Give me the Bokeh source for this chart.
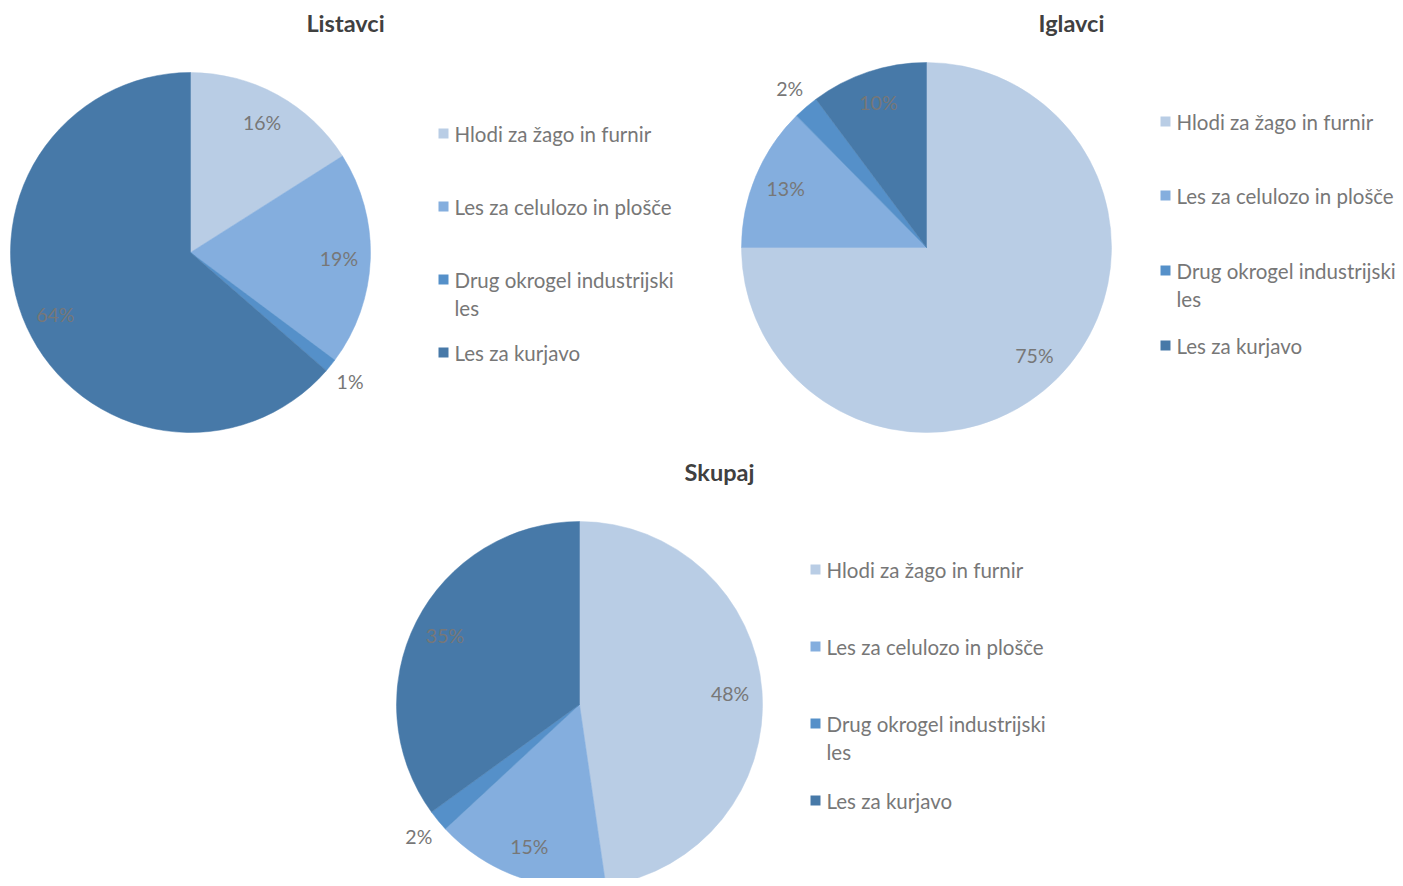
import numpy as np
from bokeh.plotting import figure
from bokeh.models import Range1d, ColumnDataSource
from bokeh.core.properties import value
from bokeh.embed import file_html
from bokeh.resources import INLINE

# ---- data ----
categories = ["Hlodi za žago in furnir", "Les za celulozo in plošče",
              "Drug okrogel industrijski les", "Les za kurjavo"]
legend_labels = ["Hlodi za žago in furnir", "Les za celulozo in plošče",
                 "Drug okrogel industrijski\nles", "Les za kurjavo"]
colors = ["#B9CDE5", "#84AEDE", "#5590C9", "#4779A8"]

titles = ["Listavci", "Iglavci", "Skupaj"]
listavci = [16.0, 19.2, 1.2, 63.6]
iglavci = [75.0, 12.6, 2.2, 10.2]
skupaj = [47.7, 15.4, 1.9, 35.0]

W, H = 1403, 886
FONT = "Lato"
LABEL_COLOR = "#777777"
TITLE_COLOR = "#404040"

p = figure(width=W - 8, height=H - 8, x_range=Range1d(0, W - 8), y_range=Range1d(8, H),
           output_backend="svg", toolbar_location=None,
           x_axis_type=None, y_axis_type=None, min_border=0)
p.xgrid.visible = False
p.ygrid.visible = False
p.outline_line_color = None
p.background_fill_color = "white"
p.border_fill_color = "white"


def Y(yi):
    return H - yi


def draw_pie(vals, title, cx, cy, r, title_xy, leg_x, leg_rows):
    vals = np.array(vals, dtype=float)
    frac = vals / vals.sum()
    cum = np.concatenate([[0], np.cumsum(frac)])
    start = np.pi / 2 - cum[1:] * 2 * np.pi
    end = np.pi / 2 - cum[:-1] * 2 * np.pi
    src = ColumnDataSource(dict(x=[cx] * 4, y=[Y(cy)] * 4, start=start, end=end, color=colors))
    p.wedge(x="x", y="y", radius=r, start_angle="start", end_angle="end",
            fill_color="color", line_color="color", line_width=0.5, source=src)
    # labels
    mid = (cum[:-1] + cum[1:]) / 2 * 2 * np.pi
    lr = np.where(frac < 0.03, r + 25, r * 0.825)
    lx = cx + lr * np.sin(mid)
    ly = Y(cy) + lr * np.cos(mid)
    txt = [f"{int(round(v))}%" for v in vals]
    p.text(x=lx, y=ly, text=txt, text_align="center", text_baseline="middle",
           text_font=value(FONT), text_font_size="19.5px", text_color=LABEL_COLOR)
    # title
    p.text(x=[title_xy[0]], y=[Y(title_xy[1])], text=[title], text_align="center",
           text_baseline="middle", text_font=value(FONT), text_font_size="23.5px",
           text_font_style="bold", text_color=TITLE_COLOR)
    # legend
    p.rect(x=[leg_x] * 4, y=[Y(v) for v in leg_rows], width=10, height=10,
           fill_color=colors, line_color=None)
    tx, ty, tt = [], [], []
    for lab, row in zip(legend_labels, leg_rows):
        for i, line in enumerate(lab.split("\n")):
            tx.append(leg_x + 11)
            ty.append(Y(row + 28 * i))
            tt.append(line)
    p.text(x=tx, y=ty, text=tt, text_align="left", text_baseline="middle",
           text_font=value(FONT), text_font_size="20.5px", text_color=LABEL_COLOR)


draw_pie(listavci, titles[0], 190, 252, 180, (345, 22), 443, [133, 206, 279, 352])
draw_pie(iglavci, titles[1], 926, 247, 185, (1071, 22), 1165, [121, 195, 270, 345])
draw_pie(skupaj, titles[2], 579, 704, 183, (719, 471), 815, [569, 646, 723, 800])

open("out.html", "w").write(file_html(p, INLINE))
